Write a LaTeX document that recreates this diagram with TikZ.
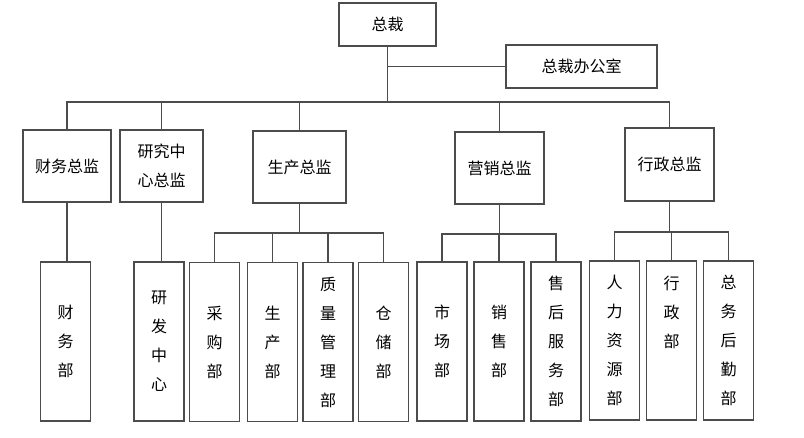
\documentclass[tikz,border=0pt]{standalone}
\usepackage{fontspec}
\newfontfamily\cjk{Noto Sans CJK SC}
\usetikzlibrary{positioning,calc}
\begin{document}
\begin{tikzpicture}[x=1pt,y=-1pt,
 box/.style={draw=black!70,line width=1.4pt,fill=white,inner sep=0pt,outer sep=0pt,align=center,font=\cjk\fontsize{16}{29}\selectfont},
 head/.style={box,minimum width=89pt,minimum height=72pt},
 dept/.style={box,minimum width=50pt,minimum height=159pt},
 link/.style={draw=black!70,line width=1.4pt}]
 \useasboundingbox (0,0) rectangle (804,438);
 \node[box,minimum width=97pt,minimum height=43pt] (ceo) at (387.5,24.5) {总裁};
 \node[box,minimum width=151pt,minimum height=43pt] (office) at (581.5,66.5) {总裁办公室};
 % directors
 \node[head,minimum width=88pt] (cfo) at (67,166) {财务总监};
 \node[head,minimum width=83pt] (rdd) at (161.5,166) {研究中\\心总监};
 \node[head,minimum width=93pt] (prod) at (299.5,167) {生产总监};
 \node[head] (mkt) at (499.5,168) {营销总监};
 \node[head,minimum height=73pt] (adm) at (669.5,164.5) {行政总监};
 % departments
 \node[dept] (fin) at (65.5,341.5) {财\\务\\部};
 \node[dept] (rnd) at (159,341.5) {研\\发\\中\\心};
 \node[dept] (buy) at (214.5,342) {采\\购\\部};
 \node[dept] (make) at (272.5,342) {生\\产\\部};
 \node[dept] (qa) at (328,342) {质\\量\\管\\理\\部};
 \node[dept] (store) at (383.5,342) {仓\\储\\部};
 \node[dept] (mkd) at (442,341.5) {市\\场\\部};
 \node[dept] (sale) at (499,341.5) {销\\售\\部};
 \node[dept] (svc) at (556,341.5) {售\\后\\服\\务\\部};
 \node[dept] (hr) at (614.5,340.5) {人\\力\\资\\源\\部};
 \node[dept] (admd) at (671.5,340.5) {行\\政\\部\\\mbox{}\\\mbox{}};
 \node[dept] (log) at (728.5,340.5) {总\\务\\后\\勤\\部};
 % connectors
 \coordinate (bus) at (0,102);
 \draw[link] (ceo.south) -- (ceo |- bus);
 \draw[link] (ceo |- office.west) -- (office.west);
 \foreach \n in {cfo,rdd,prod,mkt,adm} \draw[link] (\n.north) |- (ceo |- bus);
 \draw[link] (cfo.south) -- (cfo.south |- fin.north);
 \draw[link] (rdd.south) -- (rdd.south |- rnd.north);
 \coordinate (pbus) at (0,233);
 \draw[link] (prod.south) -- (prod |- pbus);
 \foreach \n in {buy,make,qa,store} \draw[link] (\n.north) |- (prod |- pbus);
 \coordinate (mbus) at (0,234);
 \draw[link] (mkt.south) -- (mkt |- mbus);
 \foreach \n in {mkd,sale,svc} \draw[link] (\n.north) |- (mkt |- mbus);
 \coordinate (abus) at (0,232);
 \draw[link] (adm.south) -- (adm |- abus);
 \foreach \n in {hr,admd,log} \draw[link] (\n.north) |- (adm |- abus);
\end{tikzpicture}
\end{document}
